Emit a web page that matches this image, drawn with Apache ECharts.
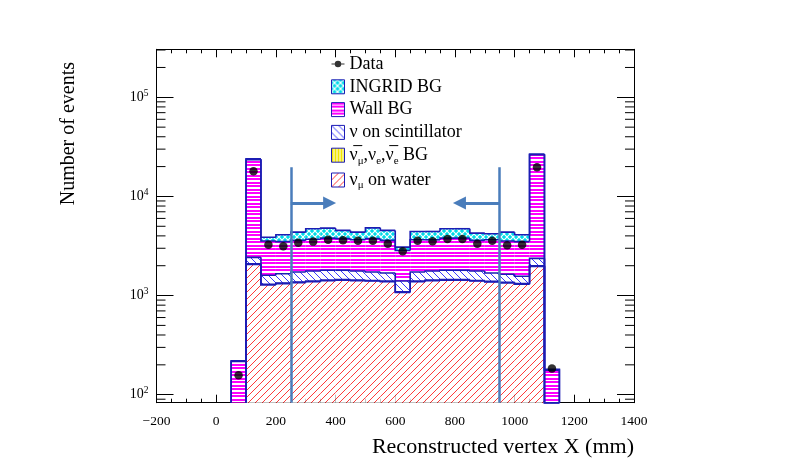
<!DOCTYPE html>
<html lang="en">
<head>
    <meta charset="utf-8">
    <title>Reconstructed vertex X</title>
    <script src="https://cdn.jsdelivr.net/npm/echarts@6/dist/echarts.min.js"></script>
    <style>
        body { margin: 0; background: #fff; }
        #main { width: 792px; height: 476px; }
    </style>
</head>
<body>
<div id="main"></div>
<script>
// bins are 50 mm wide, low edges below
var binLow = [50, 100, 150, 200, 250, 300, 350, 400, 450, 500, 550, 600, 650, 700, 750, 800, 850, 900, 950, 1000, 1050, 1100];
var binWidth = 50;
// stack components, bottom to top
var waterNumu = [0, 2060, 1280, 1320, 1350, 1380, 1410, 1430, 1410, 1400, 1380, 1075, 1380, 1410, 1430, 1430, 1400, 1370, 1340, 1300, 1970, 0];
var antiBG    = [0, 30, 20, 20, 20, 20, 20, 20, 20, 20, 20, 15, 20, 20, 20, 20, 20, 20, 20, 20, 30, 0];
var scintNu   = [0, 340, 300, 320, 360, 370, 370, 350, 340, 310, 290, 310, 330, 340, 350, 350, 350, 300, 280, 245, 370, 0];
var wallBG    = [216, 21080, 1950, 1840, 1870, 1930, 2000, 1950, 1880, 2020, 1910, 1450, 1920, 1880, 2000, 2000, 1830, 1960, 1910, 1935, 23940, 177];
var ingridBG  = [4, 400, 330, 600, 760, 1020, 990, 790, 710, 1070, 940, 230, 780, 780, 920, 920, 660, 550, 810, 600, 500, 3];
var dataEvents = [157, 17950, 3260, 3150, 3410, 3500, 3660, 3620, 3580, 3580, 3330, 2800, 3580, 3530, 3730, 3730, 3330, 3580, 3210, 3260, 19700, 184];

var cutLow = 250, cutHigh = 950, cutTop = 19700;
var arrowY = 8570, arrowLowEnd = 380, arrowHighEnd = 815;
var yMin = 83, yMax = 305000;

var SERIF = "'Liberation Serif', 'DejaVu Serif', serif";
var LINE = '#1c1cb4';

function pattern(w, h, bg, draw) {
    var c = document.createElement('canvas');
    c.width = w; c.height = h;
    var g = c.getContext('2d');
    g.fillStyle = bg; g.fillRect(0, 0, w, h);
    draw(g);
    return { image: c, repeat: 'repeat' };
}
function diag(g, n, color, up) {
    g.strokeStyle = color; g.lineWidth = 1;
    for (var o = -n; o <= n; o += n) {
        g.beginPath();
        if (up) { g.moveTo(o, n); g.lineTo(o + n, 0); }
        else { g.moveTo(o, 0); g.lineTo(o + n, n); }
        g.stroke();
    }
}
var fillWater = pattern(7, 7, '#fff', function (g) { diag(g, 7, '#ff3a3a', true); });
var fillAnti = pattern(3, 3, '#fff', function (g) { g.fillStyle = '#f2e600'; g.fillRect(0, 0, 2, 3); });
var fillScint = pattern(7, 7, '#fff', function (g) { diag(g, 7, '#3a3aff', false); });
var fillWall = pattern(7, 7, '#fff', function (g) {
    g.fillStyle = '#ff00ff'; g.fillRect(0, 0, 7, 2); g.fillRect(0, 3, 7, 2);
});
var fillIngrid = pattern(6, 6, '#00dce8', function (g) {
    g.strokeStyle = '#ffffff'; g.lineWidth = 1.2;
    g.beginPath(); g.moveTo(0, 0); g.lineTo(6, 6); g.moveTo(6, 0); g.lineTo(0, 6); g.stroke();
});

var comps = [waterNumu, antiBG, scintNu, wallBG, ingridBG];
var names = ['νμ on water', 'ν̅μ,νe,ν̅e BG', 'ν on scintillator', 'Wall BG', 'INGRID BG'];
var fills = [fillWater, fillAnti, fillScint, fillWall, fillIngrid];
var labels = {
    'Data': '{t|Data}',
    'INGRID BG': '{t|INGRID BG}',
    'Wall BG': '{t|Wall BG}',
    'ν on scintillator': '{t|ν on scintillator}',
    'ν̅μ,νe,ν̅e BG': '{t|ν̅}{s|μ}{t|,ν}{s|e}{t|,ν̅}{s|e}{t| BG}',
    'νμ on water': '{t|ν}{s|μ}{t| on water}'
};

// cumulative sums
var cum = [];
comps.forEach(function (arr, k) {
    cum.push(arr.map(function (v, i) { return v + (k ? cum[k - 1][i] : 0); }));
});

function stackSeries(k) {
    return {
        type: 'custom',
        name: names[k],
        itemStyle: { color: fills[k] },
        encode: { x: [0, 1], y: 3 },
        data: binLow.map(function (lo, i) { return [lo, lo + binWidth, i, cum[k][i] || yMin]; }),
        renderItem: function (params, api) {
            var i = api.value(2);
            var x0 = api.coord([api.value(0), yMin])[0];
            var x1 = api.coord([api.value(1), yMin])[0];
            function yc(v) { return api.coord([0, Math.max(v, yMin)])[1]; }
            var lo = k ? cum[k - 1][i] : 0;
            var hi = cum[k][i];
            var prev = i ? cum[k][i - 1] : 0;
            var kids = [];
            if (hi > lo) {
                kids.push({
                    type: 'rect', z2: 0,
                    shape: { x: x0, y: yc(hi), width: x1 - x0, height: yc(lo) - yc(hi) },
                    style: { fill: fills[k], stroke: null }
                });
            }
            if (hi > 0 || prev > 0) {
                var pts = [[x0, yc(prev)], [x0, yc(hi)], [x1, yc(hi)]];
                if (i === binLow.length - 1) pts.push([x1, yc(0)]);
                kids.push({
                    type: 'polyline', z2: 10,
                    shape: { points: pts },
                    style: { stroke: LINE, lineWidth: 1.6, fill: null }
                });
            }
            return { type: 'group', children: kids };
        }
    };
}

// minor ticks of the log axis (2..9 per decade)
var yMinorTicks = [];
[1, 10, 100, 1000, 10000, 100000].forEach(function (d) {
    for (var m = 2; m <= 9; m++) {
        var v = m * d;
        if (v > yMin && v < yMax) yMinorTicks.push(v);
    }
});

var series = [];
for (var k = comps.length - 1; k >= 0; k--) series.push(stackSeries(k));

series.push({
    type: 'custom',
    name: 'yticks',
    silent: true,
    data: yMinorTicks.map(function (v) { return [0, v]; }),
    renderItem: function (params, api) {
        var cs = params.coordSys;
        var y = api.coord([0, api.value(1)])[1];
        return {
            type: 'group',
            children: [
                { type: 'line', shape: { x1: cs.x, y1: y, x2: cs.x + 9, y2: y }, style: { stroke: '#000', lineWidth: 1 } },
                { type: 'line', shape: { x1: cs.x + cs.width, y1: y, x2: cs.x + cs.width - 9, y2: y }, style: { stroke: '#000', lineWidth: 1 } }
            ]
        };
    }
});

series.push({
    type: 'scatter',
    name: 'Data',
    z: 5,
    symbol: 'circle',
    symbolSize: 8.5,
    itemStyle: { color: '#000' },
    data: binLow.map(function (lo, i) { return [lo + binWidth / 2, dataEvents[i]]; }),
    markLine: {
        silent: true,
        symbol: ['none', 'triangle'],
        symbolSize: [13, 13],
        label: { show: false },
        lineStyle: { color: '#4a7dbb', width: 2.5, type: 'solid' },
        data: [
            [{ coord: [cutLow, yMin], symbol: 'none' }, { coord: [cutLow, cutTop], symbol: 'none' }],
            [{ coord: [cutHigh, yMin], symbol: 'none' }, { coord: [cutHigh, cutTop], symbol: 'none' }],
            [{ coord: [cutLow, arrowY], lineStyle: { width: 3 } }, { coord: [arrowLowEnd, arrowY] }],
            [{ coord: [cutHigh, arrowY], lineStyle: { width: 3 } }, { coord: [arrowHighEnd, arrowY] }]
        ]
    }
});

var legendData = [
    { name: 'Data', icon: 'path://M0,6.4H14V7.6H0Z M10.5,7A3.5,3.5 0 1 1 3.5,7A3.5,3.5 0 1 1 10.5,7Z M7,0L7,0 M7,14L7,14', itemStyle: { color: '#000', borderWidth: 0 } }
];
for (var j = comps.length - 1; j >= 0; j--) {
    legendData.push({ name: names[j], icon: 'rect', itemStyle: { color: fills[j], borderColor: LINE, borderWidth: 1 } });
}

function xAxisDef(pos) {
    return {
        type: 'value', position: pos, min: -200, max: 1400, interval: 200,
        axisLine: { show: true, onZero: false, lineStyle: { color: '#000', width: 1 } },
        axisTick: { show: true, inside: true, length: 8, lineStyle: { color: '#000' } },
        minorTick: { show: true, splitNumber: 4, length: 4, lineStyle: { color: '#000' } },
        splitLine: { show: false },
        axisLabel: {
            show: pos === 'bottom', margin: 12, color: '#000', fontFamily: SERIF, fontSize: 13.5,
            formatter: function (v) { return String(v).replace('-', '\u2212'); }
        }
    };
}
function yAxisDef(pos) {
    return {
        type: 'log', logBase: 10, position: pos, min: yMin, max: yMax,
        axisLine: { show: true, onZero: false, lineStyle: { color: '#000', width: 1 } },
        axisTick: { show: true, inside: true, length: 17, lineStyle: { color: '#000' } },
        minorTick: { show: false },
        splitLine: { show: false },
        axisLabel: {
            show: pos === 'left', margin: 8, color: '#000',
            formatter: function (v) {
                var e = Math.log10(v);
                if (Math.abs(e - Math.round(e)) > 1e-6) return '';
                return '{b|10}{e|' + Math.round(e) + '}';
            },
            rich: {
                b: { fontFamily: SERIF, fontSize: 14, lineHeight: 18, color: '#000' },
                e: { fontFamily: SERIF, fontSize: 9.5, lineHeight: 8, verticalAlign: 'top', color: '#000' }
            }
        }
    };
}

var chart = echarts.init(document.getElementById('main'));
chart.setOption({
    animation: false,
    backgroundColor: '#fff',
    grid: { left: 156.5, right: 158, top: 49.3, bottom: 73.3, containLabel: false },
    xAxis: [xAxisDef('bottom'), xAxisDef('top')],
    yAxis: [yAxisDef('left'), yAxisDef('right')],
    legend: {
        orient: 'vertical', left: 326, top: 50, itemWidth: 13, itemHeight: 14, itemGap: 4.8,
        selectedMode: false,
        data: legendData,
        formatter: function (name) { return labels[name] || name; },
        textStyle: {
            color: '#000',
            rich: {
                t: { fontFamily: SERIF, fontSize: 18, lineHeight: 22, color: '#000' },
                s: { fontFamily: SERIF, fontSize: 11, lineHeight: 10, verticalAlign: 'bottom', color: '#000' }
            }
        }
    },
    graphic: [
        { type: 'text', right: 158, top: 436, style: { text: 'Reconstructed vertex X (mm)', font: '22px ' + SERIF, fill: '#000' } },
        { type: 'text', left: 59, top: 62, rotation: Math.PI / 2, style: { text: 'Number of events', font: '20px ' + SERIF, fill: '#000' } }
    ],
    series: series
});
</script>
</body>
</html>
